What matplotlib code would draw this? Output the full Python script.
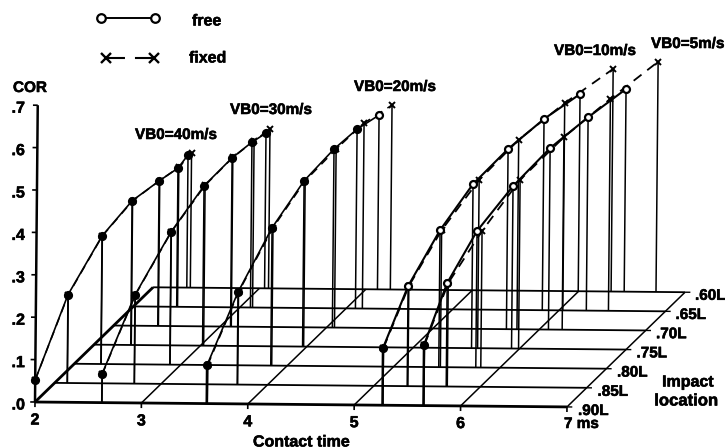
import matplotlib
matplotlib.use('Agg')
import matplotlib.pyplot as plt
import matplotlib.patheffects as pe
from matplotlib.transforms import Affine2D
import numpy as np

plt.rcParams['font.family'] = ['Liberation Sans', 'DejaVu Sans']
plt.rcParams['font.weight'] = 'bold'

speeds = ['VB0=40m/s', 'VB0=30m/s', 'VB0=20m/s', 'VB0=10m/s', 'VB0=5m/s']
locations = ['.90L', '.85L', '.80L', '.75L', '.70L', '.65L', '.60L']
cor_ticks = [0.0, 0.1, 0.2, 0.3, 0.4, 0.5, 0.6, 0.7]
cor_labels = ['.0', '.1', '.2', '.3', '.4', '.5', '.6', '.7']
time_ticks = [2, 3, 4, 5, 6, 7]
time_labels = ['2', '3', '4', '5', '6', '7 ms']

# contact time (ms) and COR, one row per impact speed, .90L -> .60L
free_time = [
    [2.00, 2.117, 2.249, 2.345, 2.414, 2.407, 2.317],
    [2.627, 2.747, 2.897, 3.02, 3.098, 3.10, 3.048],
    [3.614, 3.715, 3.846, 3.96, 4.055, 4.087, 4.109],
    [5.266, 5.313, 5.425, 5.548, 5.691, 5.843, 5.996],
    [5.651, 5.68, 5.773, 5.924, 6.086, 6.257, 6.428],
]
free_cor = [
    [.052, .208, .302, .340, .342, .327, .313],
    [.067, .209, .313, .377, .398, .390, .366],
    [.091, .218, .325, .391, .421, .423, .411],
    [.135, .236, .323, .387, .425, .451, .465],
    [.143, .244, .322, .383, .428, .456, .478],
]
fixed_time = [
    [2.00, 2.12, 2.252, 2.35, 2.42, 2.415, 2.35],
    [2.63, 2.75, 2.90, 3.03, 3.105, 3.12, 3.085],
    [3.62, 3.72, 3.855, 3.97, 4.075, 4.152, 4.23],
    [5.27, 5.32, 5.44, 5.605, 5.79, 6.036, 6.305],
    [5.655, 5.69, 5.82, 5.99, 6.215, 6.465, 6.727],
]
fixed_cor = [
    [.052, .208, .302, .340, .343, .329, .317],
    [.067, .209, .313, .378, .399, .393, .376],
    [.091, .218, .325, .391, .421, .4375, .435],
    [.135, .236, .323, .397, .447, .489, .525],
    [.143, .244, .322, .398, .454, .500, .543],
]

W, H = 725, 448
X0, Y0 = 35, 402       # pixel of t=2, COR=0
PX_MS, PX_COR = 106.4, 424.0
DX, DY = 19.5, 19.3    # floor shift per location step, pixels


def px_t(x):
    return 2 + (x - X0) / PX_MS


def px_c(y):
    return (Y0 - y) / PX_COR


def sx(t, d):
    return np.asarray(t) + np.asarray(d) * DX / PX_MS


def sy(c, d):
    return np.asarray(c) + np.asarray(d) * DY / PX_COR


fig = plt.figure(figsize=(W / 100, H / 100), dpi=100)
ax = fig.add_axes([0, 0, 1, 1])
ax.set_xlim(px_t(0), px_t(W))
ax.set_ylim(px_c(H), px_c(0))
ax.axis('off')

# the scan sits slightly rotated clockwise
tr = ax.transData + Affine2D().rotate_deg_around(X0, H - Y0, -0.53)


def line(xs, ys, **kw):
    kw.setdefault('color', 'black')
    kw.setdefault('solid_capstyle', 'butt')
    ax.plot(xs, ys, transform=tr, clip_on=False, **kw)


depths = np.arange(len(locations))

# floor
for d in depths:
    line(sx([2, 7], d), sy([0, 0], d), lw=2.0 if d == 0 else 1.3)
    line(sx([7, 7.05], d), sy([0, 0], d), lw=1)
for t in time_ticks:
    line(sx([t, t], [0, 6]), sy([0, 0], [0, 6]), lw=2.0 if t == 2 else 1.1)
    line([t, t], [0, -0.012], lw=1.2)

# COR axis
line([2, 2], [0, 0.7], lw=1.8)
for c in cor_ticks:
    line([2, 1.955], [c, c], lw=1.2)

# stems
for i in range(len(speeds)):
    for d in depths:
        heavy = 1.8 if (i >= 2 and d == 0) else 1.1
        line([sx(free_time[i][d], d)] * 2, [sy(0, d), sy(free_cor[i][d], d)], lw=heavy)
        line([sx(fixed_time[i][d], d)] * 2, [sy(0, d), sy(fixed_cor[i][d], d)], lw=1.1)

# curves
for i in range(len(speeds)):
    fx, fy = sx(free_time[i], depths), sy(free_cor[i], depths)
    gx, gy = sx(fixed_time[i], depths), sy(fixed_cor[i], depths)
    line(gx, gy, lw=1.3 if i >= 3 else 1.1, ls=(0, (5.5, 4)), marker='x', ms=5, mew=1.4)
    line(fx, fy, lw=1.5 if i >= 3 else 1.2)
    for d in depths:
        if i < 2 or d == 0 or (i == 2 and d < 6):
            face = 'black'
        else:
            face = 'white'
        line([fx[d]], [fy[d]], marker='o', ms=5, mfc=face, mec='black', mew=1.6)


def label(x, y, s, size=11, ha='left', va='center'):
    t = fig.text(x / W, 1 - y / H, s, fontsize=size, ha=ha, va=va, fontweight='bold')
    t.set_path_effects([pe.withStroke(linewidth=0.4, foreground='black')])


# legend, drawn in pixel space through the same axes
lx = px_t(np.array([101, 155]))
ax.plot(lx, px_c(np.array([18, 18])), color='black', lw=1.4, marker='o', ms=6.2, mfc='white', mew=1.6)
lx = px_t(np.array([106, 154]))
ax.plot(lx, px_c(np.array([58, 58])), color='black', lw=1.5, ls=(0, (9.1, 4.8)), marker='x', ms=7.5, mew=1.7)
label(192, 21, 'free', size=11.5)
label(189, 58, 'fixed', size=11.5)

label(13, 88, 'COR')
for c, s in zip(cor_ticks, cor_labels):
    label(25, Y0 - c * PX_COR + 3, s, size=11.5, ha='right')
for t, s in zip(time_ticks, time_labels):
    if t == 7:
        label(564, 424, s)
    else:
        label(X0 + (t - 2) * PX_MS, 420 + (t - 2) * 0.9, s, size=11.5, ha='center')

label(135, 135, speeds[0])
label(230, 110, speeds[1])
label(354, 87, speeds[2])
label(554, 51, speeds[3])
label(651, 44, speeds[4])

for d, s in enumerate(locations):
    label(578 + d * 19.5, 411 - d * 19.2, s, size=11)
label(688, 382, 'Impact', size=11.5, ha='center')
label(686, 401, 'location', size=12, ha='center')
label(253, 442, 'Contact time', size=11.5)

fig.savefig('out.png', dpi=100)
